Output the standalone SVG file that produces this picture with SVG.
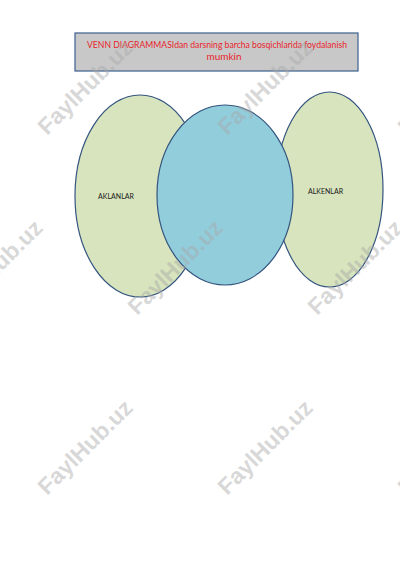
<svg xmlns="http://www.w3.org/2000/svg" width="400" height="566" viewBox="0 0 400 566">
<style>
.title{font-family:Lato,"Liberation Sans",sans-serif;font-size:10px;fill:#e8232b;text-anchor:middle}
.set{stroke:#34557f;stroke-width:1.2}
.green{fill:#d7e4bd}
.blue{fill:#92cddc}
.lbl{font-family:Lato,"Liberation Sans",sans-serif;font-size:7px;fill:#1a1a1a;text-anchor:middle;dominant-baseline:central}
.wm{font-family:"Liberation Sans",Arial,sans-serif;font-weight:bold;font-size:23px;fill:#a8a8a8;fill-opacity:0.45;text-anchor:middle;dominant-baseline:central}
</style>
<rect width="400" height="566" fill="#ffffff"/>
<g id="title">
<rect x="75" y="33" width="283" height="38" fill="#c8c8c8" stroke="#3d5f8c" stroke-width="1.2"/>
<text class="title" x="217" y="48" textLength="260" lengthAdjust="spacingAndGlyphs">VENN DIAGRAMMASIdan darsning barcha bosqichlarida foydalanish</text>
<text class="title" x="224" y="60">mumkin</text>
</g>
<g id="set-aklanlar">
<ellipse class="set green" cx="140" cy="196" rx="65" ry="101"/>
</g>
<g id="set-alkenlar">
<ellipse class="set green" cx="329.5" cy="189.5" rx="53.5" ry="97.5"/>
</g>
<g id="set-common">
<ellipse class="set blue" cx="225" cy="195" rx="68" ry="90"/>
</g>
<g id="labels">
<text class="lbl" x="116" y="196">AKLANLAR</text>
<text class="lbl" x="325.5" y="191">ALKENLAR</text>
</g>
<g id="watermarks">
<text class="wm" transform="translate(85,87) rotate(-45)">FaylHub.uz</text>
<text class="wm" transform="translate(265,87) rotate(-45)">FaylHub.uz</text>
<text class="wm" transform="translate(445,87) rotate(-45)">FaylHub.uz</text>
<text class="wm" transform="translate(-5,267) rotate(-45)">FaylHub.uz</text>
<text class="wm" transform="translate(175,267) rotate(-45)">FaylHub.uz</text>
<text class="wm" transform="translate(355,267) rotate(-45)">FaylHub.uz</text>
<text class="wm" transform="translate(85,447) rotate(-45)">FaylHub.uz</text>
<text class="wm" transform="translate(265,447) rotate(-45)">FaylHub.uz</text>
<text class="wm" transform="translate(445,447) rotate(-45)">FaylHub.uz</text>
</g>
</svg>
